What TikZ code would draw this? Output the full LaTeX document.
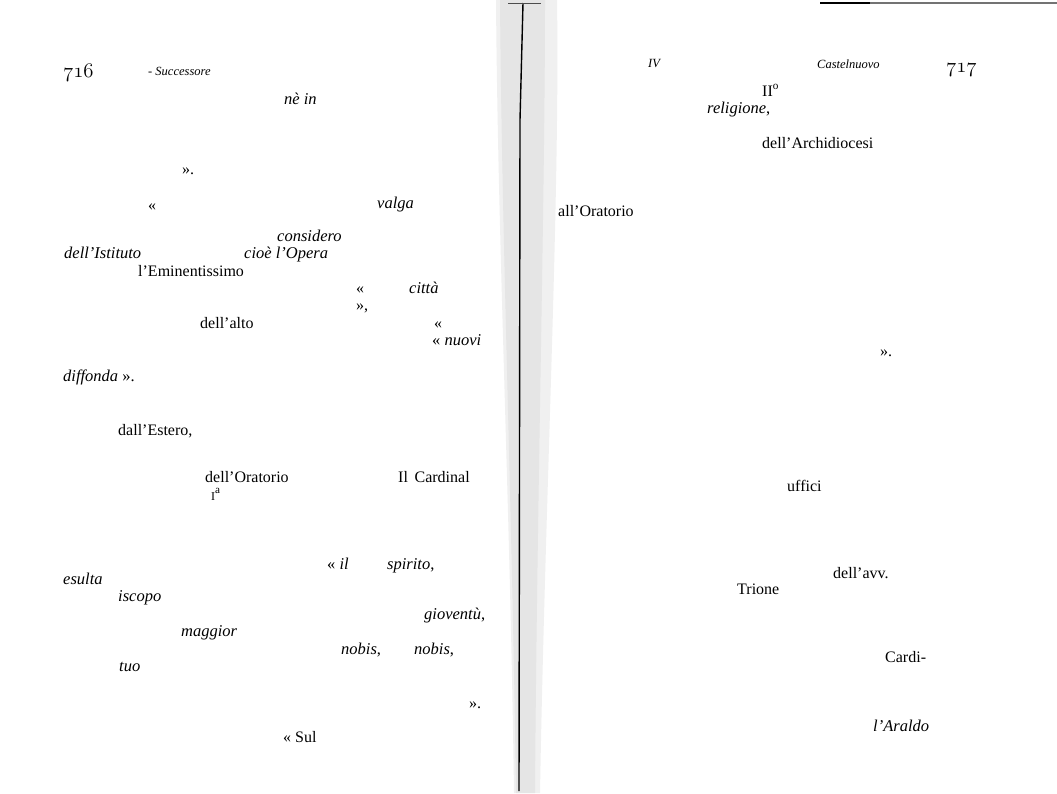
\documentclass[tikz,border=0pt]{standalone}
\usepackage{fontspec}
\setmainfont{Liberation Serif}[ItalicFont={Liberation Serif Italic}]
\usepackage{tikz}
\newcommand{\osnum}[1]{{\usefont{OML}{cmm}{m}{it}#1}}
\begin{document}
\begin{tikzpicture}[x=1pt,y=-1pt]
	\tikzset{txt/.style={anchor=base west,inner sep=0pt,font=\fontsize{16}{17}\selectfont},
		itl/.style={txt,font=\fontsize{16.5}{17}\selectfont\itshape},
		runhead/.style={txt,font=\fontsize{12.5}{13}\selectfont\itshape},
		pagenum/.style={txt,font=\fontsize{20}{20}\selectfont}}
	\useasboundingbox (0,0) rectangle (1057,793);
	\fill [white] (0,0) rectangle (1057,793);
	% gutter
	\fill [black!6] (496,0) .. controls (498,250) and (510,500) .. (514,793) -- (540,793) .. controls (545,500) and (560,200) .. (557,0) -- cycle;
	\fill [black!10] (500,0) .. controls (502,250) and (512,500) .. (516,793) -- (535,793) .. controls (537,500) and (545,200) .. (545,0) -- cycle;
	\coordinate (spinetop) at (523,3);
	\coordinate (spinebend) at (520,120);
	\coordinate (spinebot) at (519,791);
	\draw [black,line width=1.4pt] (spinetop) -- (spinebend) -- (spinebot);
	\draw [black!70,line width=0.8pt] (508,3) -- (541,3);
	\draw [black,line width=1.3pt] (820,3) -- (870,3);
	\draw [black!55,line width=1.6pt] (870,3) -- (1057,3);
	% left page
	\node[pagenum] (pnleft) at (63,77) {\osnum{716}};
	\node[runhead] (headleft) at (148,75) {- Successore};
	\node[itl] (nein) at (284,104) {nè in};
	\node[txt] (closea) at (182,174) {».};
	\node[txt] (opena) at (148,210) {«};
	\node[itl] (valga) at (377,208) {valga};
	\node[itl] (considero) at (277,241) {considero};
	\node[itl] (istituto) at (64,258) {dell’Istituto};
	\node[itl] (opera) at (244,258) {cioè l’Opera};
	\node[txt] (eminent) at (138,276) {l’Eminentissimo};
	\node[txt] (openb) at (356,293) {«};
	\node[itl] (citta) at (409,293) {città};
	\node[txt] (closeb) at (356,310) {»,};
	\node[txt] (alto) at (200,328) {dell’alto};
	\node[txt] (openc) at (434,328) {«};
	\node[itl] (nuovi) at (432,345) {\upshape« \itshape nuovi};
	\node[itl] (diffonda) at (63,381) {diffonda \upshape».};
	\node[txt] (estero) at (118,435) {dall’Estero,};
	\node[txt] (oratorio) at (205,482) {dell’Oratorio};
	\node[txt] (cardinal) at (398,482) {Il\, Cardinal};
	\node[txt] (prima) at (211,500) {{\fontsize{12}{12}\selectfont I}\textsuperscript{a}};
	\node[itl] (il) at (327,569) {\upshape« \itshape il};
	\node[itl] (spirito) at (387,569) {spirito\upshape,};
	\node[itl] (esulta) at (63,584) {esulta};
	\node[itl] (iscopo) at (118,601) {iscopo};
	\node[itl] (gioventu) at (424,619) {gioventù\upshape,};
	\node[itl] (maggior) at (181,636) {maggior};
	\node[itl] (nobisa) at (341,654) {nobis\upshape,};
	\node[itl] (nobisb) at (414,654) {nobis\upshape,};
	\node[itl] (tuo) at (119,671) {tuo};
	\node[txt] (closed) at (469,708) {».};
	\node[txt] (sul) at (283,742) {« Sul};
	% right page
	\node[runhead] (headnum) at (648,67) {IV};
	\node[runhead] (headright) at (817,68) {Castelnuovo};
	\node[pagenum] (pnright) at (946,72) {\osnum{717}};
	\node[txt] (secondo) at (762,96) {II\textsuperscript{o}};
	\node[itl] (religione) at (707,113) {religione\upshape,};
	\node[txt] (archid) at (762,148) {dell’Archidiocesi};
	\node[txt] (alloratorio) at (558,216) {all’Oratorio};
	\node[txt] (closee) at (880,356) {».};
	\node[txt] (uffici) at (787,491) {uffici};
	\node[txt] (avv) at (833,578) {dell’avv.};
	\node[txt] (trione) at (737,594) {Trione};
	\node[txt] (cardi) at (885,662) {Cardi-};
	\node[itl] (araldo) at (873,731) {l’Araldo};
\end{tikzpicture}
\end{document}
